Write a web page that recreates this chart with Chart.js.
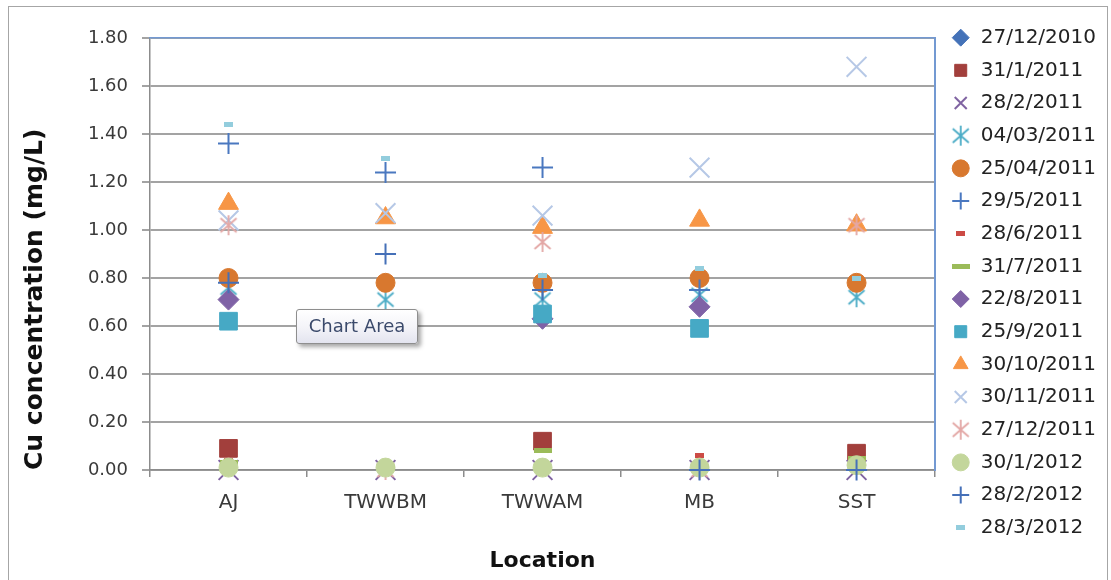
<!DOCTYPE html>
<html>
<head>
<meta charset="utf-8">
<script src="https://cdn.jsdelivr.net/npm/chart.js@4/dist/chart.umd.min.js"></script>
<style>
  html, body { margin: 0; padding: 0; background: #ffffff; overflow: hidden; }
  #wrap { position: relative; width: 1111px; height: 580px; }
  #frame { position: absolute; left: 8px; top: 6px; width: 1100px; height: 600px;
           border: 1px solid #a6a6a6; box-sizing: border-box; pointer-events: none; }
  #hint { position: absolute; left: 296px; top: 309px; width: 122px; height: 35px; box-sizing: border-box;
          border: 1px solid #8e8e8e; border-radius: 3px;
          background: linear-gradient(to bottom, #ffffff 0%, #f3f3f8 55%, #e3e4ef 100%);
          box-shadow: 3px 3px 4px rgba(0,0,0,0.35);
          font: 18px "DejaVu Sans", sans-serif; color: #3b4a6b; text-align: center; line-height: 32px; }
</style>
</head>
<body>
<div id="wrap">
  <canvas id="c" width="1111" height="580"></canvas>
  <div id="frame"></div>
  <div id="hint">Chart Area</div>
</div>
<script>
// Sampling sites
const categories = ['AJ', 'TWWBM', 'TWWAM', 'MB', 'SST'];

// Cu concentration (mg/L) per sampling date, one value per site
const d27Dec2010 = [null, null, null, null, null];
const d31Jan2011 = [0.09, null, 0.12, null, 0.07];
const d28Feb2011 = [0.00, 0.00, 0.00, 0.00, 0.00];
const d04Mar2011 = [0.76, 0.71, 0.71, 0.73, 0.72];
const d25Apr2011 = [0.80, 0.78, 0.78, 0.80, 0.78];
const d29May2011 = [1.36, 1.24, 1.26, 0.75, null];
const d28Jun2011 = [0.04, 0.01, 0.03, 0.06, 0.02];
const d31Jul2011 = [0.03, 0.01, 0.08, 0.01, 0.05];
const d22Aug2011 = [0.71, 0.60, 0.63, 0.68, null];
const d25Sep2011 = [0.62, 0.58, 0.65, 0.59, null];
const d30Oct2011 = [1.11, 1.05, 1.01, 1.04, 1.02];
const d30Nov2011 = [1.04, 1.07, 1.06, 1.26, 1.68];
const d27Dec2011 = [1.02, 0.00, 0.95, 0.00, 1.02];
const d30Jan2012 = [0.01, 0.01, 0.01, 0.01, 0.02];
const d28Feb2012 = [0.78, 0.90, 0.75, 0.00, 0.00];
const d28Mar2012 = [1.44, 1.30, 0.81, 0.84, 0.80];

// Date labels shown in the legend
const dateLabels = ['27/12/2010', '31/1/2011', '28/2/2011', '04/03/2011', '25/04/2011', '29/5/2011',
  '28/6/2011', '31/7/2011', '22/8/2011', '25/9/2011', '30/10/2011', '30/11/2011',
  '27/12/2011', '30/1/2012', '28/2/2012', '28/3/2012'];

// Y axis tick values
const yTicks = [0, 0.2, 0.4, 0.6, 0.8, 1.0, 1.2, 1.4, 1.6, 1.8];

// Asterisk marker: an X crossed by a vertical stroke
function starMarker(color) {
  const c = document.createElement('canvas');
  c.width = 22; c.height = 22;
  const g = c.getContext('2d');
  g.strokeStyle = color; g.lineWidth = 1.8;
  g.beginPath();
  g.moveTo(3, 4); g.lineTo(19, 18);
  g.moveTo(19, 4); g.lineTo(3, 18);
  g.moveTo(11, 1); g.lineTo(11, 21);
  g.stroke();
  return c;
}
// Flat bar marker (short or long dash)
function dashMarker(color, w, h) {
  const c = document.createElement('canvas');
  c.width = w; c.height = h;
  const g = c.getContext('2d');
  g.fillStyle = color;
  g.fillRect(0, 0, w, h);
  return c;
}

const styles = [
  { style: 'rectRot', color: '#4472b8', r: 10.5, fill: true },
  { style: 'rect', color: '#a23f3c', r: 12.5, fill: true },
  { style: 'crossRot', color: '#8064a2', r: 14, fill: false },
  { style: starMarker('#4bacc6'), color: '#4bacc6', r: 10, fill: false },
  { style: 'circle', color: '#d8782f', r: 9.5, fill: true },
  { style: 'cross', color: '#4a78c0', r: 10.5, fill: false },
  { style: dashMarker('#cc4b45', 9, 5), color: '#cc4b45', r: 6, fill: true },
  { style: dashMarker('#9bbb59', 18, 5), color: '#9bbb59', r: 9, fill: true },
  { style: 'rectRot', color: '#7f62a6', r: 10.5, fill: true },
  { style: 'rect', color: '#46a9c5', r: 12.5, fill: true },
  { style: 'triangle', color: '#f79646', r: 11.5, fill: true },
  { style: 'crossRot', color: '#b6c8e6', r: 14, fill: false },
  { style: starMarker('#e3a7a5'), color: '#e3a7a5', r: 10, fill: false },
  { style: 'circle', color: '#c3d69b', r: 9.5, fill: true },
  { style: 'cross', color: '#4570b8', r: 10.5, fill: false },
  { style: dashMarker('#93cddd', 9, 5), color: '#93cddd', r: 6, fill: true }
];

const seriesValues = [d27Dec2010, d31Jan2011, d28Feb2011, d04Mar2011, d25Apr2011, d29May2011,
  d28Jun2011, d31Jul2011, d22Aug2011, d25Sep2011, d30Oct2011, d30Nov2011,
  d27Dec2011, d30Jan2012, d28Feb2012, d28Mar2012];

const datasets = seriesValues.map((vals, i) => {
  const s = styles[i];
  return {
    label: dateLabels[i],
    data: vals,
    showLine: false,
    order: -i,               // later dates are drawn over earlier ones
    clip: false,
    pointStyle: s.style,
    pointRadius: s.r,
    pointHoverRadius: s.r,
    pointBackgroundColor: s.fill ? s.color : 'rgba(0,0,0,0)',
    backgroundColor: s.fill ? s.color : 'rgba(0,0,0,0)',
    pointBorderColor: s.color,
    borderColor: s.color,
    pointBorderWidth: s.fill ? 1 : 2,
    borderWidth: s.fill ? 1 : 2
  };
});

Chart.defaults.font.family = '"DejaVu Sans", sans-serif';
Chart.defaults.color = '#3a3a3a';

new Chart(document.getElementById('c'), {
  type: 'line',
  data: { labels: categories, datasets },
  options: {
    responsive: false,
    animation: false,
    events: [],
    layout: { padding: { top: 15, right: 5, bottom: 0, left: 0 } },
    plugins: {
      tooltip: { enabled: false },
      legend: {
        position: 'right',
        align: 'start',
        labels: {
          usePointStyle: true,
          boxHeight: 12,
          padding: 12.67,
          color: '#222222',
          font: { size: 20 },
          sort: (a, b) => a.datasetIndex - b.datasetIndex
        }
      }
    },
    scales: {
      x: {
        type: 'category',
        offset: true,
        afterFit: (s) => { s.height = 110; },
        grid: { offset: true, drawOnChartArea: false, drawTicks: true, tickLength: 7, color: '#8c8c8c', lineWidth: 1.5 },
        border: { color: '#8c8c8c', width: 1.5 },
        ticks: { padding: 14, font: { size: 20 }, color: '#3a3a3a' },
        title: { display: true, text: 'Location', font: { size: 22, weight: 'bold' }, color: '#111111', padding: { top: 0, bottom: 6 } }
      },
      y: {
        type: 'linear',
        min: 0,
        max: 1.8,
        afterFit: (s) => { s.width = 150; },
        afterBuildTicks: (s) => { s.ticks = yTicks.map(v => ({ value: v })); },
        grid: { color: '#a3a3a3', lineWidth: 2, tickLength: 8, drawTicks: true },
        border: { color: '#8c8c8c', width: 1.5 },
        ticks: { padding: 14, font: { size: 18 }, color: '#3a3a3a', callback: (v) => Number(v).toFixed(2) },
        title: { display: true, text: 'Cu concentration (mg/L)', align: 'start', font: { size: 25, weight: 'bold' }, color: '#111111', padding: { top: 20, bottom: 0 } }
      },
      xTop: {
        type: 'linear',
        position: 'top',
        afterFit: (s) => { s.height = 23; },
        grid: { color: 'rgba(0,0,0,0)', drawTicks: false },
        border: { color: '#7399d2', width: 1.5 },
        ticks: { display: false }
      },
      yRight: {
        type: 'linear',
        position: 'right',
        afterFit: (s) => { s.width = 3; },
        grid: { color: 'rgba(0,0,0,0)', drawTicks: false },
        border: { color: '#7399d2', width: 2 },
        ticks: { display: false }
      }
    }
  }
});
</script>
</body>
</html>
